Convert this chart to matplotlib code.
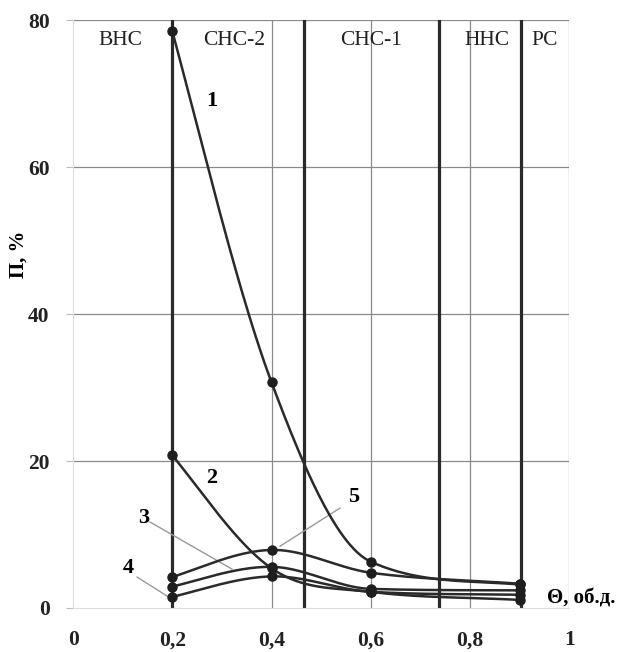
import numpy as np
import matplotlib
matplotlib.use('Agg')
import matplotlib.pyplot as plt

plt.rcParams['font.family'] = ['Liberation Serif', 'DejaVu Serif']

# values
theta = [0.2, 0.4, 0.6, 0.9]
curve_1 = [78.5, 30.7, 6.3, 3.2]
curve_2 = [20.8, 5.4, 2.2, 1.1]
curve_3 = [2.9, 5.6, 2.6, 2.4]
curve_4 = [1.5, 4.3, 2.2, 1.8]
curve_5 = [4.2, 7.9, 4.8, 3.3]
curves = [curve_1, curve_2, curve_3, curve_4, curve_5]

zone_edges = [0.2, 0.465, 0.738, 0.903]
zone_names = ['ВНС', 'СНС-2', 'СНС-1', 'ННС', 'РС']
zone_label_x = [0.095, 0.325, 0.6, 0.835, 0.95]


def smooth(x, y, xs):
    # cubic hermite through the points, only used to draw the line
    x = np.asarray(x, float)
    y = np.asarray(y, float)
    h = np.diff(x)
    d = np.diff(y) / h
    m = np.zeros_like(y)
    for k in range(1, len(x) - 1):
        m[k] = (y[k + 1] - y[k - 1]) / (x[k + 1] - x[k - 1])
    m[0] = d[0] + 0.25 * (d[0] - m[1])
    m[-1] = d[-1]
    # keep monotone pieces from overshooting
    for k in range(len(d)):
        if d[k] == 0:
            continue
        a, b = m[k] / d[k], m[k + 1] / d[k]
        if a > 0 and b > 0 and a * a + b * b > 9:
            tau = 3 / np.sqrt(a * a + b * b)
            m[k] = tau * a * d[k]
            m[k + 1] = tau * b * d[k]
    out = np.empty_like(xs)
    for i, xv in enumerate(xs):
        k = min(max(np.searchsorted(x, xv) - 1, 0), len(x) - 2)
        t = (xv - x[k]) / h[k]
        h00 = 2 * t**3 - 3 * t**2 + 1
        h10 = t**3 - 2 * t**2 + t
        h01 = -2 * t**3 + 3 * t**2
        h11 = t**3 - t**2
        out[i] = h00 * y[k] + h10 * h[k] * m[k] + h01 * y[k + 1] + h11 * h[k] * m[k + 1]
    return out


fig = plt.figure(figsize=(6.2, 6.52), dpi=100)
ax = fig.add_axes([0.118, 0.0675, 0.8, 0.9015])
ax.set_xlim(0, 1)
ax.set_ylim(0, 80)

# thin grid
for xg in [0.4, 0.6, 0.8, 1.0]:
    ax.axvline(xg, color='#8a8a8a', lw=0.9, zorder=1)
for yg in [20, 40, 60, 80]:
    ax.axhline(yg, color='#8a8a8a', lw=0.9, zorder=1)
for s in ['top', 'right']:
    ax.spines[s].set_visible(False)
ax.spines['left'].set_color('#dddddd')
ax.spines['bottom'].set_color('#dddddd')

# zone boundaries
for xe in zone_edges:
    ax.axvline(xe, color='#2a2a2a', lw=2.3, zorder=2)
for name, xl in zip(zone_names, zone_label_x):
    ax.text(xl, 77.3, name, ha='center', va='center', fontsize=15.5, color='#222222')

xs = np.linspace(theta[0], theta[-1], 200)
for c in curves:
    ax.plot(xs, smooth(theta, c, xs), color='#2a2a2a', lw=1.8, zorder=3)
    ax.plot(theta, c, 'o', color='#1e1e1e', ms=6.5, zorder=4)

# curve numbers with leaders
ax.text(0.28, 69, '1', fontsize=16, fontweight='bold', ha='center', va='center')
ax.text(0.28, 17.7, '2', fontsize=16, fontweight='bold', ha='center', va='center')
ax.text(0.565, 15.1, '5', fontsize=16, fontweight='bold', ha='center', va='center')
ax.text(0.142, 12.3, '3', fontsize=16, fontweight='bold', ha='center', va='center')
ax.text(0.111, 5.5, '4', fontsize=16, fontweight='bold', ha='center', va='center')
ax.plot([0.538, 0.417], [13.6, 8.4], color='#999999', lw=1.0, zorder=2)
ax.plot([0.155, 0.32], [11.7, 5.3], color='#999999', lw=1.0, zorder=2)
ax.plot([0.129, 0.19], [4.2, 1.6], color='#999999', lw=1.0, zorder=2)

ax.set_xticks([0, 0.2, 0.4, 0.6, 0.8, 1])
ax.set_xticklabels(['0', '0,2', '0,4', '0,6', '0,8', '1'])
ax.set_yticks([0, 20, 40, 60, 80])
ax.tick_params(axis='x', length=0, pad=16, labelsize=15.5)
ax.tick_params(axis='y', length=5, pad=12, labelsize=15.5, color='#bbbbbb')
for lab in ax.get_xticklabels() + ax.get_yticklabels():
    lab.set_fontweight('bold')
    lab.set_color('#222222')

fig.text(19 / 620, 1 - 254 / 652, 'П, %', fontsize=15, fontweight='bold',
         rotation=90, ha='center', va='center')
ax.text(0.955, 1.35, 'Θ, об.д.', fontsize=15, fontweight='bold', ha='left', va='center')

fig.savefig('out.png', dpi=100)
